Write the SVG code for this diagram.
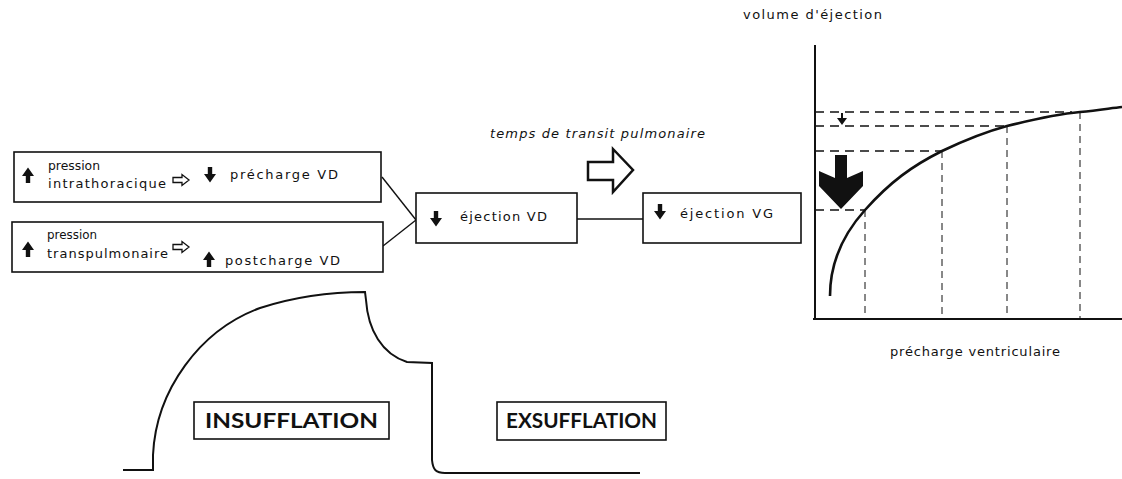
<svg xmlns="http://www.w3.org/2000/svg" width="1122" height="479" viewBox="0 0 1122 479">
<style>
.box{fill:#fff;stroke:#111;stroke-width:1.6}
.t{font-family:"DejaVu Sans","Liberation Sans",sans-serif;font-size:13px;fill:#111}
.ti{font-family:"DejaVu Sans","Liberation Sans",sans-serif;font-size:13px;font-style:italic;fill:#111}
.tb{font-family:Lato,"Liberation Sans",sans-serif;font-size:21px;font-weight:bold;fill:#111}
.ln{fill:none;stroke:#111;stroke-width:1.4}
.ax{fill:none;stroke:#111;stroke-width:2}
.dh{fill:none;stroke:#111;stroke-width:1.3;stroke-dasharray:9,6}
.dv{fill:none;stroke:#111;stroke-width:1;stroke-dasharray:7,5}
.blk{fill:#111}
.hol{fill:#fff;stroke:#111;stroke-width:1.3}
</style>
<defs>
<path id="dn" d="M-2.2,-8 H2.2 V-1 H6 L0,7.5 L-6,-1 H-2.2 Z"/>
<path id="hol" d="M0,-2.5 H9 V-5.5 L16,0 L9,5.5 V2.5 H0 Z"/>
</defs>
<rect width="1122" height="479" fill="#fff"/>

<g id="connectors">
<line class="ln" x1="382" y1="177" x2="416" y2="220"/>
<line class="ln" x1="383" y1="246" x2="416" y2="220"/>
<line class="ln" x1="576" y1="219" x2="643" y2="219"/>
</g>

<g id="box-intrathoracique">
<rect class="box" x="14" y="152" width="367" height="50"/>
<use href="#dn" class="blk" transform="translate(28,175) rotate(180)"/>
<text class="t" x="48" y="170" textLength="52" lengthAdjust="spacingAndGlyphs">pression</text>
<text class="t" x="48" y="188" textLength="118" lengthAdjust="spacing">intrathoracique</text>
<use href="#hol" class="hol" transform="translate(173,180)"/>
<use href="#dn" class="blk" transform="translate(210,175)"/>
<text class="t" x="230" y="179" textLength="108" lengthAdjust="spacing">précharge VD</text>
</g>

<g id="box-transpulmonaire">
<rect class="box" x="12" y="222" width="371" height="50"/>
<use href="#dn" class="blk" transform="translate(28,249) rotate(180)"/>
<text class="t" x="47" y="239" textLength="50" lengthAdjust="spacingAndGlyphs">pression</text>
<text class="t" x="47" y="258" textLength="121" lengthAdjust="spacing">transpulmonaire</text>
<use href="#hol" class="hol" transform="translate(173,247)"/>
<use href="#dn" class="blk" transform="translate(209,259) rotate(180)"/>
<text class="t" x="225" y="265" textLength="115" lengthAdjust="spacing">postcharge VD</text>
</g>

<g id="box-ejection-vd">
<rect class="box" x="416" y="193" width="161" height="50"/>
<use href="#dn" class="blk" transform="translate(436,219)"/>
<text class="t" x="460" y="221" textLength="87" lengthAdjust="spacing">éjection VD</text>
</g>

<g id="box-ejection-vg">
<rect class="box" x="643" y="193" width="158" height="50"/>
<use href="#dn" class="blk" transform="translate(660,212)"/>
<text class="t" x="680" y="218" textLength="93" lengthAdjust="spacing">éjection VG</text>
</g>

<g id="transit">
<text class="ti" x="490" y="138" textLength="215" lengthAdjust="spacing">temps de transit pulmonaire</text>
<path d="M588,162 H613 V149 L633,170 L613,192 V180 H588 Z" fill="#fff" stroke="#111" stroke-width="2.5" stroke-linejoin="miter"/>
</g>

<g id="chart">
<text class="t" x="743" y="19" textLength="139" lengthAdjust="spacing">volume d'éjection</text>
<text class="t" x="890" y="356" textLength="170" lengthAdjust="spacing">précharge ventriculaire</text>
<line class="dh" x1="815" y1="112" x2="1072" y2="112"/>
<line class="dh" x1="815" y1="126" x2="1007" y2="126"/>
<line class="dh" x1="815" y1="151" x2="942" y2="151"/>
<line class="dh" x1="815" y1="210" x2="865" y2="210"/>
<line class="dv" x1="865" y1="210" x2="865" y2="319"/>
<line class="dv" x1="942" y1="151" x2="942" y2="319"/>
<line class="dv" x1="1007" y1="126" x2="1007" y2="319"/>
<line class="dv" x1="1080" y1="112" x2="1080" y2="319"/>
<line class="ax" x1="815" y1="45" x2="815" y2="320"/>
<line class="ax" x1="813" y1="319" x2="1122" y2="319"/>
<path d="M830,296 C830,270 838,240 865,210 C890,182 912,166 942,151 C965,140 985,132 1007,126 C1035,119 1058,114 1080,112 C1100,110 1112,108 1122,107" fill="none" stroke="#111" stroke-width="2.6"/>
<path class="blk" d="M835,155 H847 V178 L863,171 V186 L841,209 L819,186 V171 L835,178 Z"/>
<line x1="842" y1="113" x2="842" y2="119" stroke="#111" stroke-width="2"/>
<path class="blk" d="M837,118 H847 L842,125 Z"/>
</g>

<g id="waveform">
<path d="M123,470 H153 V455 C156,390 200,330 260,308 C300,295 340,292 365,292 L366,300 C368,330 382,354 407,362 L432,363 V460 C433,470 436,473 445,473 H640" fill="none" stroke="#111" stroke-width="2"/>
</g>

<g id="box-insufflation">
<rect class="box" x="194" y="402" width="195" height="37"/>
<text class="tb" x="205" y="428" textLength="173" lengthAdjust="spacingAndGlyphs">INSUFFLATION</text>
</g>

<g id="box-exsufflation">
<rect class="box" x="497" y="402" width="169" height="38"/>
<text class="tb" x="506" y="428" textLength="151" lengthAdjust="spacingAndGlyphs">EXSUFFLATION</text>
</g>
</svg>
